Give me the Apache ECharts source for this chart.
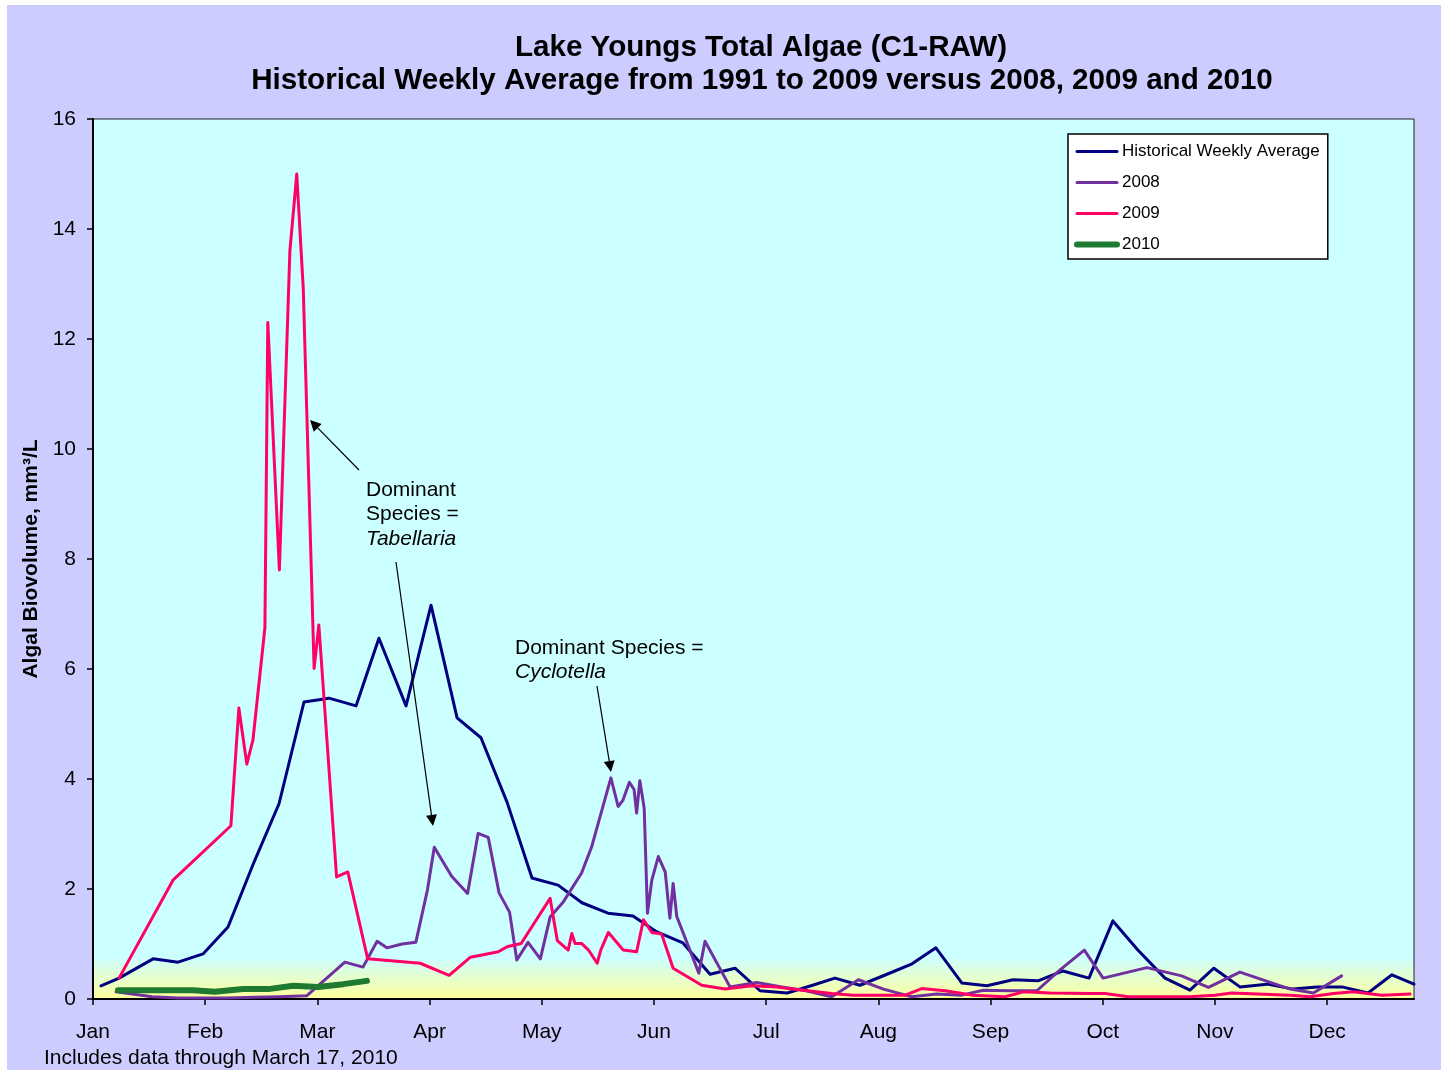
<!DOCTYPE html>
<html>
<head>
<meta charset="utf-8">
<script src="https://cdn.jsdelivr.net/npm/echarts@6/dist/echarts.min.js"></script>
<style>
html,body{margin:0;padding:0;background:#ffffff;}
#bg{position:absolute;left:7px;top:5px;width:1434px;height:1065px;background:#CCCCFF;}
#chart{position:absolute;left:0;top:0;width:1447px;height:1074px;}
</style>
</head>
<body>
<div id="bg"></div>
<div id="chart"></div>
<script>
// ---- Data (x = day of year, y = algal biovolume mm3/L) ----
const monthLabels = ['Jan','Feb','Mar','Apr','May','Jun','Jul','Aug','Sep','Oct','Nov','Dec'];
const monthTickDays = [0,31,62,93,124,155,186,217,248,279,310,341];

const histDays = [2.2,7.2,16.6,23.5,30.4,37.3,44.5,51.4,58.3,65.2,72.7,79.0,86.5,93.4,100.6,107.2,114.4,121.3,128.5,135.1,142.3,149.2,155.8,163.0,170.5,177.4,184.3,191.8,198.4,205.0,211.9,219.4,226.3,232.9,240.1,247.0,254.2,261.1,268.0,275.2,281.8,288.7,296.2,303.1,309.7,316.9,324.4,331.6,338.2,345.1,352.3,358.9,365];
const histValues = [0.24,0.38,0.73,0.67,0.82,1.31,2.49,3.55,5.40,5.47,5.33,6.56,5.33,7.16,5.11,4.75,3.58,2.20,2.07,1.75,1.56,1.51,1.22,1.02,0.45,0.56,0.15,0.11,0.24,0.38,0.25,0.45,0.64,0.93,0.29,0.24,0.35,0.33,0.51,0.38,1.42,0.89,0.38,0.16,0.56,0.22,0.27,0.18,0.22,0.22,0.11,0.44,0.27];

const y2008Days = [6.4,16.3,23.5,30.4,37.3,44.5,51.4,59.1,69.6,74.6,78.5,81.2,85.4,89.2,92.4,94.3,99.1,103.5,106.4,109.2,112.2,115.1,117.1,120.2,123.6,126.3,130.0,135.0,137.8,143.1,145.1,146.4,148.2,149.5,150.2,151.1,152.3,153.2,154.4,156.2,158.1,159.4,160.3,161.3,167.4,169.1,176.0,183.4,190.3,197.0,204.1,211.5,218.4,226.2,233.1,240.0,246.0,253.4,260.8,267.2,273.9,279.1,291.2,300.8,308.2,316.9,330.8,337.2,345.0];
const y2008Values = [0.13,0.04,0.02,0.02,0.02,0.03,0.04,0.06,0.67,0.58,1.05,0.93,1.00,1.03,1.98,2.76,2.23,1.92,3.01,2.94,1.93,1.58,0.71,1.03,0.73,1.49,1.77,2.29,2.77,4.02,3.50,3.61,3.94,3.81,3.38,3.97,3.47,1.56,2.16,2.59,2.31,1.47,2.10,1.50,0.47,1.05,0.22,0.30,0.22,0.15,0.04,0.35,0.18,0.04,0.09,0.07,0.16,0.15,0.15,0.53,0.89,0.38,0.57,0.42,0.21,0.49,0.18,0.11,0.42];

const y2009Days = [7.2,22.1,38.1,40.3,42.5,44.2,47.5,48.3,51.5,54.4,56.3,58.1,61.1,62.4,67.3,70.4,75.9,90.4,98.4,104.3,112.0,114.4,118.3,126.3,128.3,131.3,132.3,133.2,135.0,136.9,139.3,140.3,142.4,146.5,150.2,152.1,154.4,157.1,160.3,168.2,174.6,182.0,188.9,196.3,204.1,210.1,216.5,224.4,229.0,235.4,243.2,252.0,257.1,264.4,275.5,279.6,286.1,303.1,310.0,314.6,330.8,336.3,342.7,348.3,356.1,363.9];
const y2009Values = [0.38,2.16,3.15,5.29,4.27,4.71,6.75,12.30,7.80,13.60,15.00,12.91,6.01,6.80,2.22,2.31,0.73,0.65,0.43,0.76,0.86,0.95,1.01,1.83,1.06,0.89,1.19,1.01,1.01,0.89,0.65,0.89,1.21,0.89,0.86,1.44,1.21,1.18,0.56,0.25,0.18,0.24,0.22,0.16,0.10,0.07,0.07,0.07,0.19,0.15,0.07,0.04,0.13,0.11,0.10,0.10,0.04,0.04,0.07,0.11,0.07,0.04,0.10,0.13,0.07,0.09];

const y2010Days = [6.9,13.8,20.7,27.6,33.7,41.4,48.4,55.3,62.2,69.1,75.7];
const y2010Values = [0.16,0.16,0.16,0.16,0.13,0.18,0.18,0.24,0.22,0.27,0.33];

const seriesNames = ['Historical Weekly Average','2008','2009','2010'];
const yTicks = {min:0, max:16, interval:2};

// ---- Build ----
const FONT = 'Liberation Sans, Arial, sans-serif';
const zip = (xs, ys) => xs.map((x,i) => [x, ys[i]]);
const colors = ['#000080','#7030A0','#FF0066','#1E7A30'];
const widths = [3,3,3,6];

function arrow(x1,y1,x2,y2){
  const a = Math.atan2(y2-y1, x2-x1), L = 11, W = 5.5;
  const c = Math.cos(a), s = Math.sin(a);
  const bx = x2 - L*c, by = y2 - L*s;
  return [
    {type:'line', z:100, shape:{x1:x1,y1:y1,x2:bx,y2:by}, style:{stroke:'#000', lineWidth:1.2}},
    {type:'polygon', z:100, shape:{points:[[x2,y2],[bx+W*s,by-W*c],[bx-W*s,by+W*c]]}, style:{fill:'#000'}}
  ];
}
function txt(x,y,t,opts){
  return Object.assign({type:'text', z:100, x:x, y:y,
    style:Object.assign({text:t, fill:'#000', font:'21px '+FONT, textVerticalAlign:'middle'}, opts||{})});
}

const chart = echarts.init(document.getElementById('chart'), null, {renderer:'canvas'});
const lineBase = (i, data) => ({
  name: seriesNames[i], type:'line', data: data, symbol:'none', showSymbol:false,
  lineStyle:{color:colors[i], width:widths[i], cap:'round', join:'round'},
  itemStyle:{color:colors[i]}, animation:false
});

chart.setOption({
  backgroundColor:'transparent',
  animation:false,
  textStyle:{fontFamily:FONT},
  grid:{left:93, top:119, right:33, bottom:75, show:true,
    borderColor:'#222', borderWidth:1,
    backgroundColor:{type:'linear', x:0, y:0, x2:0, y2:1, colorStops:[
      {offset:0, color:'#CCFFFF'},{offset:0.952, color:'#CCFFFF'},{offset:1, color:'#FFFF99'}]}},
  legend:{
    orient:'vertical', left:1068, top:134,
    backgroundColor:'#ffffff', borderColor:'#000', borderWidth:1.5,
    padding:[9,8,6,6], itemWidth:40, itemHeight:17, itemGap:14,
    itemStyle:{opacity:0},
    textStyle:{fontSize:17, color:'#000', fontFamily:FONT},
    data: seriesNames.map((n,i) => ({name:n, itemStyle:{opacity:0}, lineStyle:{width:widths[i], color:colors[i], cap:'round'}}))
  },
  xAxis:{
    type:'value', min:0, max:365,
    axisLine:{show:true, lineStyle:{color:'#000', width:2}},
    axisTick:{show:true, customValues:monthTickDays, length:6, inside:false, lineStyle:{color:'#000', width:1.5}},
    axisLabel:{customValues:monthTickDays, margin:23, fontSize:21, color:'#000', fontFamily:FONT,
      formatter: v => { const i = monthTickDays.indexOf(Math.round(v)); return i >= 0 ? monthLabels[i] : ''; }},
    splitLine:{show:false}
  },
  yAxis:{
    type:'value', min:yTicks.min, max:yTicks.max, interval:yTicks.interval,
    name:'Algal Biovolume, mm\u00B3/L', nameLocation:'middle', nameGap:48, nameRotate:90,
    nameTextStyle:{fontSize:21, fontWeight:'bold', color:'#000', fontFamily:FONT},
    axisLine:{show:true, lineStyle:{color:'#000', width:2}},
    axisTick:{show:true, length:6, lineStyle:{color:'#000', width:1.5}},
    axisLabel:{margin:17, fontSize:21, color:'#000', fontFamily:FONT},
    splitLine:{show:false}
  },
  series:[
    lineBase(0, zip(histDays, histValues)),
    lineBase(1, zip(y2008Days, y2008Values)),
    lineBase(2, zip(y2009Days, y2009Values)),
    lineBase(3, zip(y2010Days, y2010Values))
  ],
  graphic:[
    txt(761, 48, 'Lake Youngs Total Algae (C1-RAW)', {font:'bold 29.6px '+FONT, textAlign:'center'}),
    txt(762, 81, 'Historical Weekly Average from 1991 to 2009 versus 2008, 2009 and 2010', {font:'bold 29.6px '+FONT, textAlign:'center'}),
    txt(44, 1058, 'Includes data through March 17, 2010'),
    txt(366, 490, 'Dominant'),
    txt(366, 514, 'Species ='),
    txt(366, 539, 'Tabellaria', {font:'italic 21px '+FONT}),
    txt(515, 648, 'Dominant Species ='),
    txt(515, 672, 'Cyclotella', {font:'italic 21px '+FONT}),
    ...arrow(359, 470, 310, 420),
    ...arrow(396, 562, 433, 826),
    ...arrow(597, 686, 611, 772)
  ]
});
</script>
</body>
</html>
